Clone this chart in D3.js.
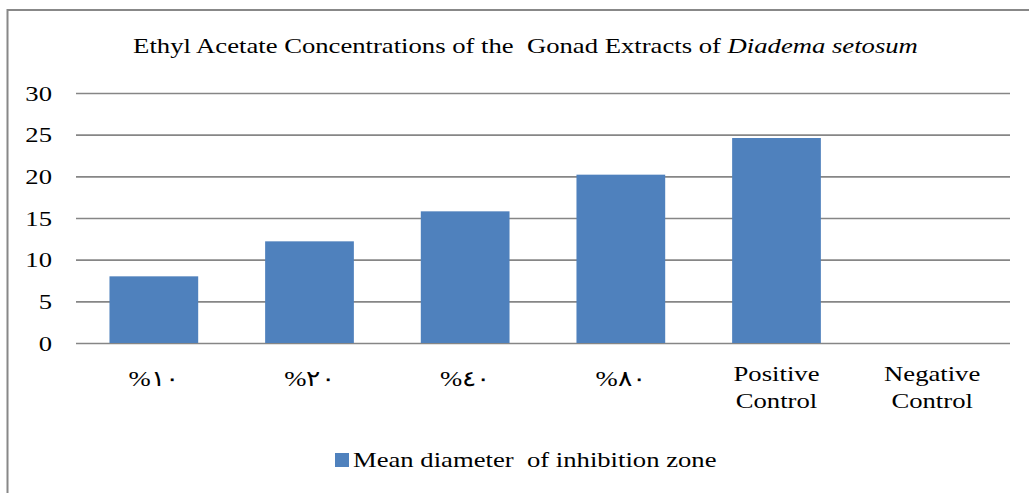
<!DOCTYPE html>
<html><head><meta charset="utf-8">
<script src="https://cdn.jsdelivr.net/npm/d3@7"></script>
</head>
<body style="margin:0;background:#fff"><svg id="c" width="1029" height="493" style="display:block"></svg>
<script>
(function(){
const categories = [["%\u0661\u0660"],["%\u0662\u0660"],["%\u0664\u0660"],["%\u0668\u0660"],["Positive","Control"],["Negative","Control"]];
const values = [8.0, 12.2, 15.8, 20.2, 24.6, 0];
const yTicks = [0,5,10,15,20,25,30];
const seriesName = "Mean diameter  of inhibition zone";
const titleMain = "Ethyl Acetate Concentrations of the  Gonad Extracts of ";
const titleItalic = "Diadema setosum";

const FONT = "Liberation Serif";
const FS = 22;
const svg = d3.select("#c");
const W = 1029, H = 493;
svg.append("rect").attr("x",7.5).attr("y",10).attr("width",W+10).attr("height",H+10)
  .attr("fill","#fff").attr("stroke","#888").attr("stroke-width",2);

const pL = 76, pR = 1010, pT = 93, pB = 343;
const x = d3.scaleBand().domain(d3.range(categories.length)).range([pL,pR])
  .paddingInner(0.43).paddingOuter(0.215);
const y = d3.scaleLinear().domain([0,30]).range([pB,pT]);

const tg = svg.append("g");
const title = tg.append("text").attr("x",0).attr("y",0).attr("text-anchor","middle")
  .attr("font-size",FS).attr("fill","#000").style("font-family",FONT).style("white-space","pre");
title.append("tspan").text(titleMain);
title.append("tspan").attr("font-style","italic").text(titleItalic);
const tl = title.node().getComputedTextLength();
const sx = tl > 0 ? 785 / tl : 1;
tg.attr("transform",`translate(525.5,53) scale(${sx},1)`);

function txt(parent, px, py, s, anchor){
  const g = parent.append("g").attr("transform",`translate(${px},${py}) scale(${sx},1)`);
  return g.append("text").attr("x",0).attr("y",0).attr("text-anchor",anchor||"start")
    .attr("font-size",FS).attr("fill","#000").style("font-family",FONT)
    .style("white-space","pre").text(s);
}

const yAxis = d3.axisLeft(y).tickValues(yTicks).tickSize(-(pR-pL)).tickFormat("");
const gy = svg.append("g").attr("transform",`translate(${pL},0)`).call(yAxis);
gy.select(".domain").remove();
gy.selectAll(".tick line").attr("stroke","#868686").attr("stroke-width",1.6);
const yl = svg.append("g");
yTicks.forEach(v=>{ txt(yl, 52, y(v)+7.5, String(v), "end"); });

svg.append("g").selectAll("rect").data(values).join("rect")
  .attr("x",(d,i)=>x(i)).attr("width",x.bandwidth())
  .attr("y",d=>y(d)).attr("height",d=>y(0)-y(d))
  .attr("fill","#4F81BD");

const xl = svg.append("g");
categories.forEach((lines,i)=>{
  const cx = x(i)+x.bandwidth()/2;
  if(lines.length===1){
    txt(xl, cx, 386, lines[0], "middle");
  } else {
    lines.forEach((s,j)=> txt(xl, cx, 381+j*26.5, s, "middle"));
  }
});

const lg = svg.append("g");
lg.append("rect").attr("x",335).attr("y",453).attr("width",14).attr("height",14).attr("fill","#4F81BD");
txt(lg, 353, 467, seriesName, "start");
})();
</script></body></html>
